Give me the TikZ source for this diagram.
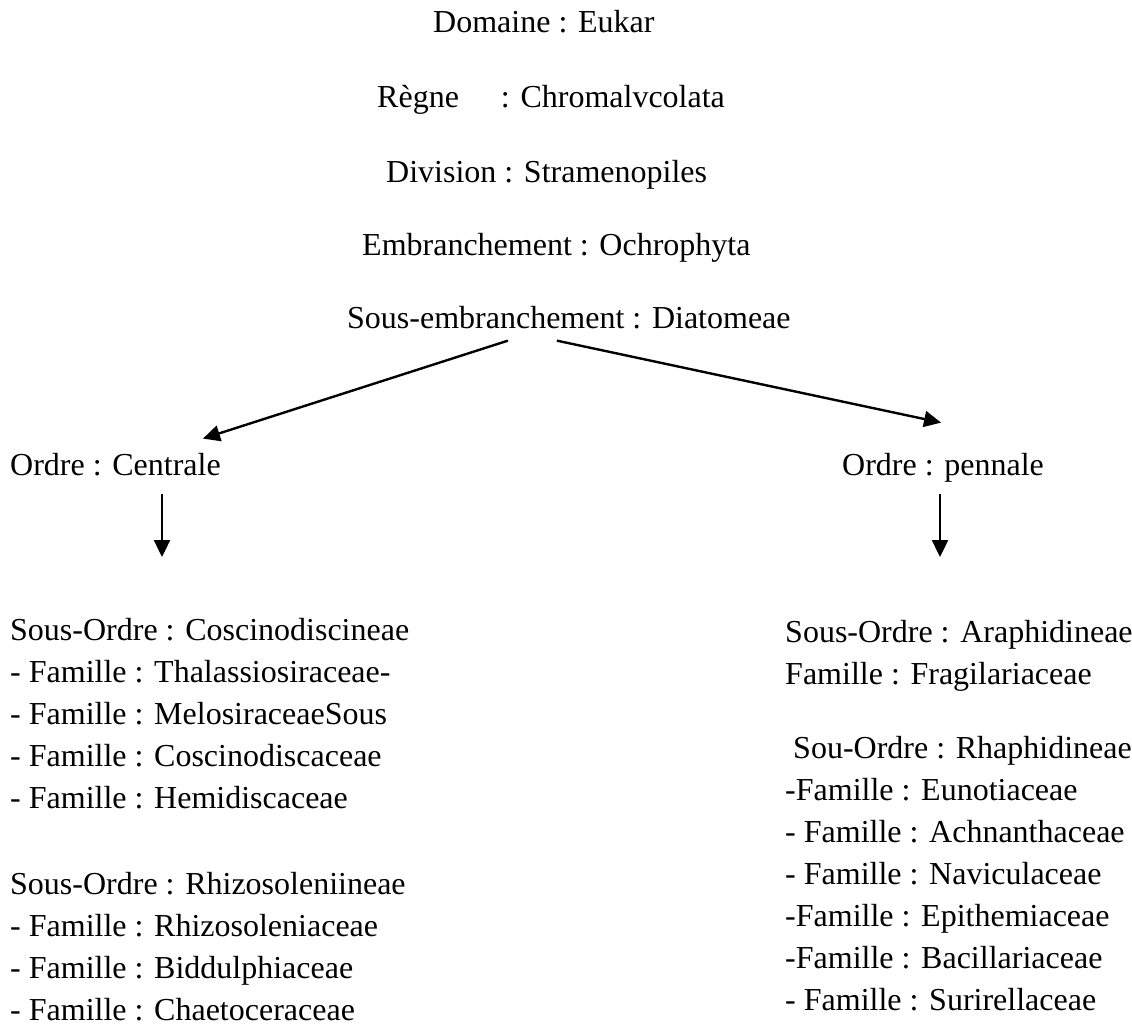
\documentclass[tikz,border=0pt]{standalone}
\usepackage{fontspec}
\setmainfont{Liberation Serif}
\usetikzlibrary{arrows.meta, positioning, calc}

\begin{document}
\begin{tikzpicture}[
    x=1pt, y=-1pt,
    every node/.style={font=\fontsize{32}{42}\selectfont},
    rank/.style={
        anchor=base west,
        inner sep=0pt
    },
    item/.style={
        rank,
        align=left
    },
    arrow/.style={
        line width=2.4pt,
        -{Triangle[length=17pt, width=16pt]},
        draw=black
    }
]
\useasboundingbox (0,0) rectangle (1132,1025);

% Classification ranks
\node[rank] (domaine) at (433,33) {Domaine : Eukar};
\node[rank] (regne) at (377,107) {Règne\hspace{34pt} : Chromalvcolata};
\node[rank] (division) at (386,182) {Division : Stramenopiles};
\node[rank] (embr) at (362,255) {Embranchement : Ochrophyta};
\node[rank] (sousembr) at (347,328) {Sous-embranchement : Diatomeae};

% Orders
\node[rank] (centrale) at (10,475) {Ordre : Centrale};
\node[rank] (pennale) at (842,475) {Ordre : pennale};

% Free ends of the down arrows
\coordinate (cdown) at (162,557);
\coordinate (pdown) at (940,557);

% Centrale sub-orders and families
\foreach \y/\txt [count=\i] in {
    640/Sous-Ordre : Coscinodiscineae,
    682/- Famille : Thalassiosiraceae-,
    724/- Famille : MelosiraceaeSous,
    766/- Famille : Coscinodiscaceae,
    808/- Famille : Hemidiscaceae,
    894/Sous-Ordre : Rhizosoleniineae,
    936/- Famille : Rhizosoleniaceae,
    978/- Famille : Biddulphiaceae,
    1020/- Famille : Chaetoceraceae}
    \node[item] (cl\i) at (10,\y) {\txt};

% Pennale sub-orders and families
\foreach \x/\y/\txt [count=\i] in {
    785/642/Sous-Ordre : Araphidineae,
    785/684/Famille : Fragilariaceae,
    793/758/Sou-Ordre : Rhaphidineae,
    785/800/-Famille : Eunotiaceae,
    785/842/- Famille : Achnanthaceae,
    785/884/- Famille : Naviculaceae,
    785/926/-Famille : Epithemiaceae,
    785/968/-Famille : Bacillariaceae,
    785/1010/- Famille : Surirellaceae}
    \node[item] (pl\i) at (\x,\y) {\txt};

% Branching arrows
\draw[arrow] ([xshift=-61pt, yshift=-12pt]sousembr.south) -- ([xshift=-18pt, yshift=14pt]centrale.north east);
\draw[arrow] ([xshift=-12pt, yshift=-12pt]sousembr.south) -- ([xshift=-2pt, yshift=30pt]pennale.north);

% Down arrows
\draw[arrow] ([yshift=-18pt]centrale.south -| cdown) -- (cdown);
\draw[arrow] ([yshift=-18pt]centrale.south -| pdown) -- (pdown);

\end{tikzpicture}
\end{document}
